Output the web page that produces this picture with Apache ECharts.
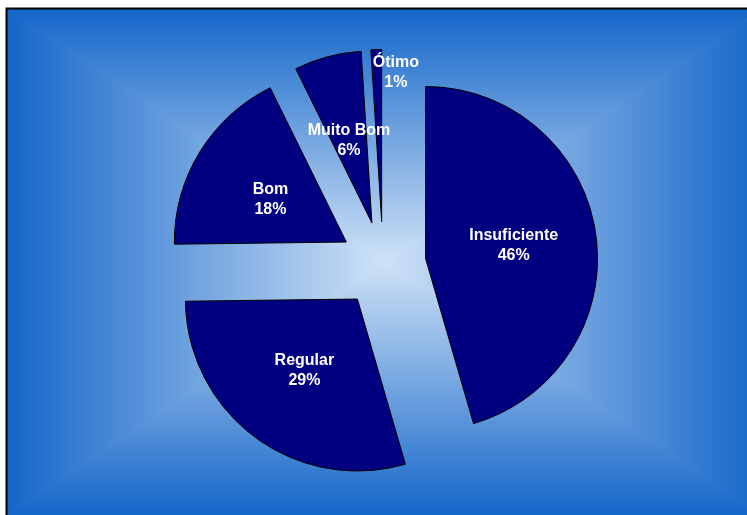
<!DOCTYPE html>
<html>
<head>
<meta charset="utf-8">
<script src="https://cdn.jsdelivr.net/npm/echarts@6/dist/echarts.min.js"></script>
<style>
  html, body { margin: 0; padding: 0; background: #fff; }
  #chart { width: 747px; height: 515px; }
</style>
</head>
<body>
<div id="chart"></div>
<script>
var categories = ['Insuficiente', 'Regular', 'Bom', 'Muito Bom', 'Ótimo'];
var values = [45.5, 29.3, 17.9, 6.3, 1.0];

var chart = echarts.init(document.getElementById('chart'), null, {renderer: 'canvas'});

// moldura com gradiente "retangular" (4 triangulos do canto ao centro)
var L = 7, T = 9, R = 763, B = 515, CX = 385, CY = 262;
var edge = '#1466c9', mid = '#cfe2f6';
function grad(x, y, x2, y2) {
    return {
        type: 'linear', global: true, x: x, y: y, x2: x2, y2: y2,
        colorStops: [{offset: 0, color: edge}, {offset: 1, color: mid}]
    };
}
function tri(pts, g) {
    return {
        type: 'polygon', z: -10, silent: true,
        shape: {points: pts},
        style: {fill: g, stroke: g, lineWidth: 1}
    };
}

var data = categories.map(function (name, i) {
    return {name: name, value: values[i], selected: true};
});

var option = {
    backgroundColor: '#ffffff',
    animation: false,
    graphic: [
        tri([[L, T], [R, T], [CX, CY]], grad(0, T, 0, CY)),
        tri([[L, B], [R, B], [CX, CY]], grad(0, B, 0, CY)),
        tri([[L, T], [L, B], [CX, CY]], grad(L, 0, CX, 0)),
        tri([[R, T], [R, B], [CX, CY]], grad(R, 0, CX, 0)),
        {
            type: 'rect', z: -9, silent: true,
            shape: {x: L - 0.5, y: T - 0.5, width: 800, height: 600},
            style: {fill: 'none', stroke: '#000', lineWidth: 2}
        }
    ],
    series: [{
        type: 'pie',
        center: [383, 264.5],
        radius: 172,
        startAngle: 90,
        clockwise: true,
        selectedMode: 'multiple',
        selectedOffset: 43,
        avoidLabelOverlap: false,
        itemStyle: {color: '#000080', borderColor: '#000', borderWidth: 1},
        select: {itemStyle: {color: '#000080', borderColor: '#000', borderWidth: 1}},
        emphasis: {disabled: true},
        label: {
            show: true,
            position: 'inside',
            color: '#fff',
            fontFamily: 'Liberation Sans',
            fontWeight: 'bold',
            fontSize: 16,
            lineHeight: 20,
            formatter: function (p) {
                return p.name + '\n' + Math.round(p.percent) + '%';
            }
        },
        labelLine: {show: false},
        labelLayout: function (p) {
            // rotulo do 1% fica fora da fatia, acima
            if (p.dataIndex === 4) return {dx: 17, dy: -60};
            if (p.dataIndex === 2 || p.dataIndex === 3) return {dy: 4};
            return {};
        },
        data: data
    }]
};

chart.setOption(option);
</script>
</body>
</html>
